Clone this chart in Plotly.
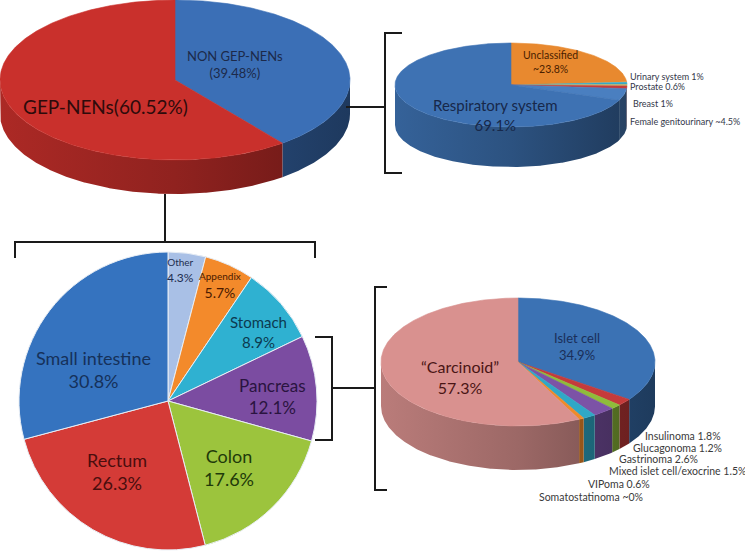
import numpy as np
import plotly.graph_objects as go

# Données
nen_labels = ['NON GEP-NENs', 'GEP-NENs']
nen_values = [39.48, 60.52]
nen_colors = ['#3b6fb6', '#c9302c']

resp_labels = ['Unclassified', 'Urinary system', 'Prostate', 'Breast',
               'Female genitourinary', 'Respiratory system']
resp_values = [23.8, 1.0, 0.6, 1.0, 4.5, 69.1]
resp_approx = [True, False, False, False, True, False]
resp_colors = ['#e8892f', '#35a9c4', '#c9b36a', '#c63b3b', '#4a7fc0', '#3e72b3']

gep_labels = ['Other', 'Appendix', 'Stomach', 'Pancreas', 'Colon', 'Rectum',
              'Small intestine']
gep_values = [4.3, 5.7, 8.9, 12.1, 17.6, 26.3, 30.8]
gep_colors = ['#a9c0e6', '#f38a2b', '#2fb1d1', '#7b4ca1', '#9cc43d', '#d43b37', '#3573bf']

panc_labels = ['Islet cell', 'Insulinoma', 'Glucagonoma', 'Gastrinoma',
               'Mixed islet cell/exocrine', 'VIPoma', 'Somatostatinoma', '“Carcinoid”']
panc_values = [34.9, 1.8, 1.2, 2.6, 1.5, 0.6, 0.0, 57.3]
panc_approx = [False, False, False, False, False, False, True, False]
panc_colors = ['#3b72b4', '#c53b3b', '#8fbc3b', '#7c53a6', '#30a8c6', '#f08a2a',
               '#999999', '#d9918f']

FONT = 'Lato, "Open Sans", sans-serif'


def pct(v, approx=False):
    return ('~' if approx else '') + f'{v:g}%'


def darker(hexcol, f):
    h = hexcol.lstrip('#')
    r, g, b = (int(h[i:i + 2], 16) for i in (0, 2, 4))
    return f'rgb({int(r * f)},{int(g * f)},{int(b * f)})'


def ellipse_pie(values, colors, cx, cy, rx, ry, depth):
    """camembert 3D : ellipse du dessus + flanc en dégradé"""
    bounds = np.cumsum([0] + list(values)) / sum(values) * 2 * np.pi
    sides, tops = [], []
    for v, c, a0, a1 in zip(values, colors, bounds[:-1], bounds[1:]):
        if v <= 0:
            continue
        lo, hi = max(a0, np.pi / 2), min(a1, 3 * np.pi / 2)
        if hi > lo:
            t = np.linspace(lo, hi, max(3, int((hi - lo) / 0.01)))
            xs = cx + rx * np.sin(t)
            ys = cy - ry * np.cos(t)
            sides.append(go.Scatter(
                x=np.concatenate([xs, xs[::-1]]),
                y=np.concatenate([ys, ys[::-1] + depth]),
                fill='toself', mode='lines',
                fillgradient=dict(type='horizontal', start=cx - rx, stop=cx + rx,
                                  colorscale=[[0, darker(c, 0.86)], [0.5, darker(c, 0.72)],
                                              [1, darker(c, 0.52)]]),
                line=dict(width=0),
                hoverinfo='skip', showlegend=False))
        t = np.linspace(a0, a1, max(3, int((a1 - a0) / 0.01)))
        tops.append(go.Scatter(
            x=np.concatenate([[cx], cx + rx * np.sin(t), [cx]]),
            y=np.concatenate([[cy], cy - ry * np.cos(t), [cy]]),
            fill='toself', fillcolor=c, mode='lines',
            line=dict(color=c, width=0.6),
            hoverinfo='skip', showlegend=False))
    return sides + tops


fig = go.Figure()

for tr in ellipse_pie(nen_values, nen_colors, 175, 80, 175, 80, 34):
    fig.add_trace(tr)
for tr in ellipse_pie(resp_values, resp_colors, 511, 85, 116, 42, 40):
    fig.add_trace(tr)
for tr in ellipse_pie(panc_values, panc_colors, 518, 362, 137, 64, 44):
    fig.add_trace(tr)

# camembert plat en bas à gauche
fig.add_trace(go.Pie(
    labels=gep_labels, values=gep_values, sort=False,
    direction='clockwise', rotation=0,
    marker=dict(colors=gep_colors, line=dict(color='#e8eef5', width=1)),
    textinfo='none', hoverinfo='label+value', showlegend=False,
    domain=dict(x=[19 / 745, 317 / 745], y=[1 - 550 / 559, 1 - 252 / 559])
))

# crochets et liaisons
line_style = dict(color='#1a1a1a', width=2)
brackets = [
    'M 346 107 L 385 107',
    'M 402 33 L 385 33 L 385 173 L 402 173',
    'M 165 194 L 165 242',
    'M 15 258 L 15 242 L 315 242 L 315 258',
    'M 315 337 L 332 337 L 332 440 L 315 440',
    'M 332 388 L 375 388',
    'M 387 287 L 375 287 L 375 490 L 387 490',
]
for p in brackets:
    fig.add_shape(type='path', path=p, xref='x', yref='y', line=line_style)


def label(x, y, text, size, color, anchor='center'):
    fig.add_annotation(x=x, y=y, xref='x', yref='y', text=text, showarrow=False,
                       xanchor=anchor, yanchor='middle', align=anchor,
                       font=dict(family=FONT, size=size, color=color))


# textes du camembert principal
label(235, 64, f'{nen_labels[0]}<br>({pct(nen_values[0])})', 13, '#1c2a4a')
label(105, 106, f'{nen_labels[1]}({pct(nen_values[1])})', 19, '#2e0b0b')

# textes « non GEP »
label(550, 62, f'{resp_labels[0]}<br>{pct(resp_values[0], resp_approx[0])}', 10.5, '#4a1e00')
label(495, 115, f'{resp_labels[5]}<br>{pct(resp_values[5])}', 15, '#17284a')
resp_small_pos = [(628, 76), (628, 86), (631, 103), (628, 121)]
for i, (px, py) in zip(range(1, 5), resp_small_pos):
    label(px, py, f'{resp_labels[i]} {pct(resp_values[i], resp_approx[i])}', 9,
          '#34384a', anchor='left')

# textes GEP
gep_text_pos = [(180, 270), (220, 285), (258, 332), (272, 396), (229, 467),
                (117, 471), (93, 369)]
gep_sizes = [(10, 12), (10, 14), (15, 15), (17, 17), (18, 18), (18, 18), (18, 18)]
gep_text_col = ['#1e2e50', '#4a1a00', '#0c3a50', '#2a1440', '#1f3a0a', '#4a0e0e', '#15315a']
for lab, v, (px, py), (s1, s2), col in zip(gep_labels, gep_values, gep_text_pos,
                                           gep_sizes, gep_text_col):
    label(px, py, f'<span style="font-size:{s1}px">{lab}</span><br>{pct(v)}', s2, col)

# textes pancréas
label(460, 377, f'{panc_labels[7]}<br>{pct(panc_values[7])}', 16, '#4a1515')
label(577, 346, f'{panc_labels[0]}<br>{pct(panc_values[0])}', 13, '#1a2f5a')
panc_small_pos = [(643, 436), (631, 448), (617, 459), (607, 471), (586, 484), (537, 497)]
for i, (px, py) in zip(range(1, 7), panc_small_pos):
    label(px, py, f'{panc_labels[i]} {pct(panc_values[i], panc_approx[i])}', 10.5,
          '#3a3a3a', anchor='left')

fig.update_xaxes(range=[0, 745], visible=False, fixedrange=True)
fig.update_yaxes(range=[559, 0], visible=False, fixedrange=True)
fig.update_layout(
    width=745, height=559,
    margin=dict(l=0, r=0, t=0, b=0),
    paper_bgcolor='white', plot_bgcolor='white',
    showlegend=False,
)

# la page a une marge par défaut de 8px
fig.write_html('out.html', config={'displayModeBar': False},
               post_script="document.body.style.margin='0';")
